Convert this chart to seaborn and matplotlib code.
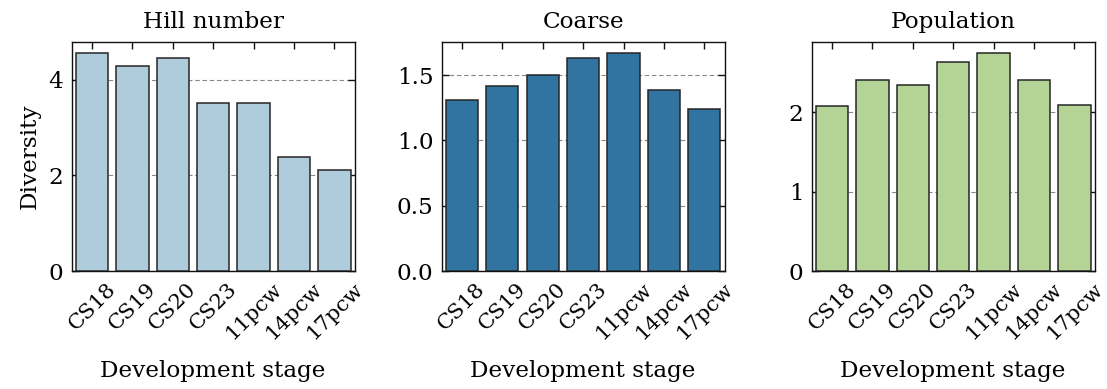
import matplotlib
matplotlib.use("Agg")
import matplotlib.pyplot as plt
import seaborn as sns
import pandas as pd

stages = ["CS18", "CS19", "CS20", "CS23", "11pcw", "14pcw", "17pcw"]
hill_number = [4.56, 4.28, 4.46, 3.52, 3.52, 2.39, 2.11]
coarse = [1.311, 1.419, 1.503, 1.631, 1.669, 1.383, 1.238]
population = [2.08, 2.41, 2.34, 2.64, 2.75, 2.41, 2.09]

titles = ["Hill number", "Coarse", "Population"]
series = [hill_number, coarse, population]
paired = sns.color_palette("Paired")
colors = [paired[0], paired[1], paired[2]]
yticks = [[0, 2, 4], [0.0, 0.5, 1.0, 1.5], [0, 1, 2]]
ytick_labels = [["0", "2", "4"], ["0.0", "0.5", "1.0", "1.5"], ["0", "1", "2"]]

sns.set_theme(style="ticks")
plt.rcParams["font.family"] = ["DejaVu Serif", "Liberation Serif"]
plt.rcParams["text.color"] = "black"
plt.rcParams["axes.labelcolor"] = "black"
plt.rcParams["xtick.color"] = "black"
plt.rcParams["ytick.color"] = "black"
fs = 16.7
xfs = 15.4

fig = plt.figure(figsize=(11.07, 3.89), dpi=100)
lefts = [0.0648, 0.399, 0.7333]
width = 0.2555
bottom = 0.303
height = 0.589

for i in range(3):
    ax = fig.add_axes([lefts[i], bottom, width, height])
    df = pd.DataFrame({"stage": stages, "value": series[i]})
    sns.barplot(data=df, x="stage", y="value", color=colors[i], edgecolor="#262626",
                linewidth=1.1, ax=ax, zorder=3)
    ax.set_xlim(-0.5, 6.5)
    ax.set_yticks(yticks[i])
    ax.set_yticklabels(ytick_labels[i], fontsize=fs)
    ax.yaxis.grid(True, linestyle=(0, (4, 2.5)), color="#888888", linewidth=0.8, zorder=0)
    ax.set_axisbelow(True)
    ax.tick_params(axis="both", direction="in", top=True, right=True, length=5,
                   width=1.0, color="#111111")
    ax.set_xticks(range(len(stages)))
    ax.set_xticklabels(stages, rotation=45, fontsize=xfs)
    ax.tick_params(axis="x", pad=6)
    ax.tick_params(axis="y", pad=6)
    for s in ax.spines.values():
        s.set_linewidth(1.0)
        s.set_color("#111111")
    ax.set_title(titles[i], fontsize=fs, pad=10)
    ax.set_xlabel("Development stage", fontsize=fs, labelpad=12)
    ax.set_ylabel("Diversity" if i == 0 else "", fontsize=fs, labelpad=6)

fig.savefig("out.png", dpi=100)
